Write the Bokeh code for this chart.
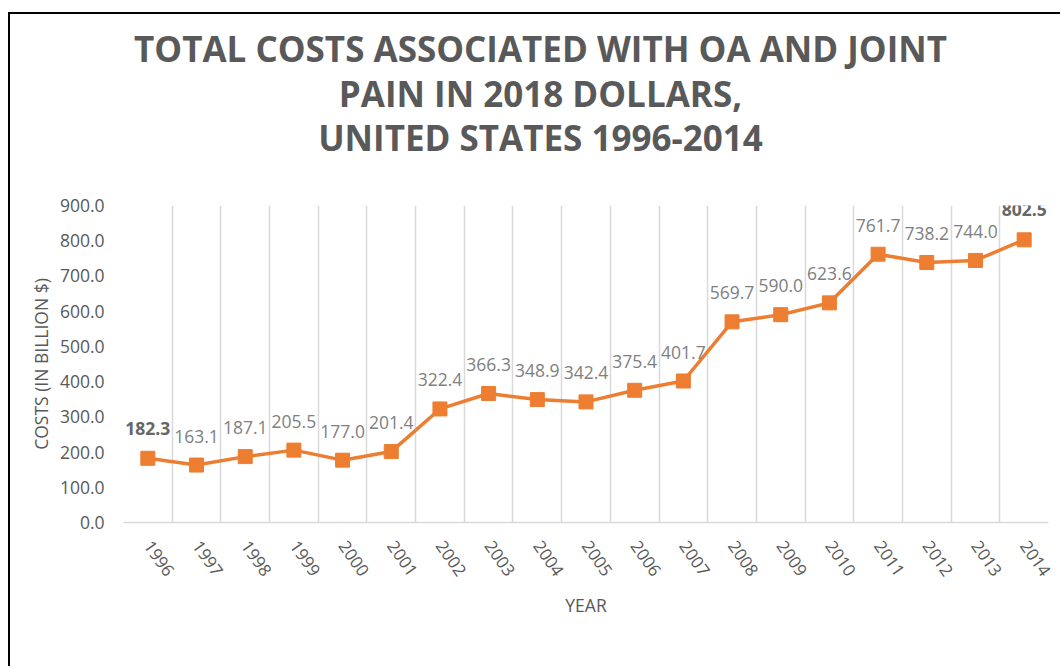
from bokeh.plotting import figure
from bokeh.layouts import column
from bokeh.models import ColumnDataSource, LabelSet, FixedTicker, Range1d
from bokeh.embed import file_html
from bokeh.resources import INLINE
from bokeh.core.properties import value

years = ["1996", "1997", "1998", "1999", "2000", "2001", "2002", "2003", "2004", "2005",
         "2006", "2007", "2008", "2009", "2010", "2011", "2012", "2013", "2014"]
costs = [182.3, 163.1, 187.1, 205.5, 177.0, 201.4, 322.4, 366.3, 348.9, 342.4,
         375.4, 401.7, 569.7, 590.0, 623.6, 761.7, 738.2, 744.0, 802.5]
bold_years = ["1996", "2014"]
title_lines = ["TOTAL COSTS ASSOCIATED WITH OA AND JOINT",
               "PAIN IN 2018 DOLLARS,",
               "UNITED STATES 1996-2014"]
y_ticks = [0, 100, 200, 300, 400, 500, 600, 700, 800, 900]
y_title = "COSTS (IN BILLION $)"
x_title = "YEAR"

FONT = "Open Sans"
W = 1050
TH = 150          # height of the title strip
H = 502           # height of the chart
ML, MR = 113, 12  # side borders shared by both parts

# ---------- title strip (pixel coordinates of the strip) ----------
t = figure(width=W, height=TH, x_range=Range1d(ML, W - MR), y_range=Range1d(0, TH),
           output_backend="svg", toolbar_location=None, title=None,
           x_axis_location=None, y_axis_location=None,
           min_border_left=ML, min_border_right=MR, min_border_top=0, min_border_bottom=0)
t.grid.visible = False
t.outline_line_color = None
t.border_fill_color = "white"
t.background_fill_color = "white"
tsrc = ColumnDataSource(dict(x=[530, 530, 530], y=[116, 71, 27], text=title_lines))
t.text("x", "y", text="text", source=tsrc, text_align="center", text_baseline="alphabetic",
       text_font=value(FONT), text_font_style="bold", text_font_size="35px", text_color="#595959")

# ---------- chart ----------
xs = list(range(len(years)))
labels = ["%.1f" % c for c in costs]
src = ColumnDataSource(dict(x=xs, y=costs, label=labels))
reg = [i for i, y in enumerate(years) if y not in bold_years]
bld = [i for i, y in enumerate(years) if y in bold_years]
src_reg = ColumnDataSource(dict(x=[xs[i] for i in reg], y=[costs[i] for i in reg], label=[labels[i] for i in reg]))
src_bld = ColumnDataSource(dict(x=[xs[i] for i in bld], y=[costs[i] for i in bld], label=[labels[i] for i in bld]))

p = figure(width=W, height=H, x_range=Range1d(-0.5, len(years) - 0.5), y_range=Range1d(0, 900),
           output_backend="svg", toolbar_location=None, title=None,
           min_border_left=ML, min_border_right=MR, min_border_top=41, min_border_bottom=144)
p.outline_line_color = None
p.background_fill_color = "white"
p.border_fill_color = "white"

# x axis
p.xaxis.ticker = FixedTicker(ticks=xs)
p.xaxis.major_label_overrides = {i: y for i, y in zip(xs, years)}
p.xaxis.major_label_orientation = -0.96
p.xaxis.major_tick_line_color = None
p.xaxis.minor_tick_line_color = None
p.xaxis.axis_line_color = "#d9d9d9"
p.xaxis.axis_line_width = 1.5
p.xaxis.major_label_text_font = FONT
p.xaxis.major_label_text_font_size = "17px"
p.xaxis.major_label_text_color = "#595959"
p.xaxis.major_label_standoff = 14
p.xaxis.axis_label = x_title
p.xaxis.axis_label_text_font = FONT
p.xaxis.axis_label_text_font_size = "17.5px"
p.xaxis.axis_label_text_font_style = "normal"
p.xaxis.axis_label_text_color = "#595959"
p.xaxis.axis_label_standoff = 9

# y axis
p.yaxis.ticker = FixedTicker(ticks=y_ticks)
p.yaxis.major_label_overrides = {tk: "%.1f" % tk for tk in y_ticks}
p.yaxis.axis_line_color = None
p.yaxis.major_tick_line_color = None
p.yaxis.minor_tick_line_color = None
p.yaxis.major_tick_out = 0
p.yaxis.major_tick_in = 0
p.yaxis.major_label_text_font = FONT
p.yaxis.major_label_text_font_size = "17.5px"
p.yaxis.major_label_text_color = "#595959"
p.yaxis.major_label_standoff = 19
p.yaxis.axis_label = y_title
p.yaxis.axis_label_text_font = FONT
p.yaxis.axis_label_text_font_size = "17.5px"
p.yaxis.axis_label_text_font_style = "normal"
p.yaxis.axis_label_text_color = "#595959"
p.yaxis.axis_label_standoff = 4

# grids
p.ygrid.grid_line_color = None
p.xgrid.ticker = FixedTicker(ticks=[i - 0.5 for i in range(len(years) + 1)])
p.xgrid.grid_line_color = "#d9d9d9"
p.xgrid.grid_line_width = 1.5

p.line("x", "y", source=src, line_color="#ed7d31", line_width=3.5)
p.scatter("x", "y", source=src, marker="square", size=14, fill_color="#ed7d31", line_color="#ed7d31")

p.add_layout(LabelSet(x="x", y="y", text="label", source=src_reg, y_offset=29,
                      text_align="center", text_baseline="middle", text_font=value(FONT),
                      text_font_size="17.5px", text_color="#808080"))
p.add_layout(LabelSet(x="x", y="y", text="label", source=src_bld, y_offset=30,
                      text_align="center", text_baseline="middle", text_font=value(FONT),
                      text_font_size="17.5px", text_font_style="bold", text_color="#666666"))

layout = column(t, p, spacing=0)
layout.styles = {"border-left": "2px solid black", "border-top": "2px solid black",
                 "margin-top": "12px", "margin-left": "8px"}

open("out.html", "w").write(file_html(layout, INLINE))
